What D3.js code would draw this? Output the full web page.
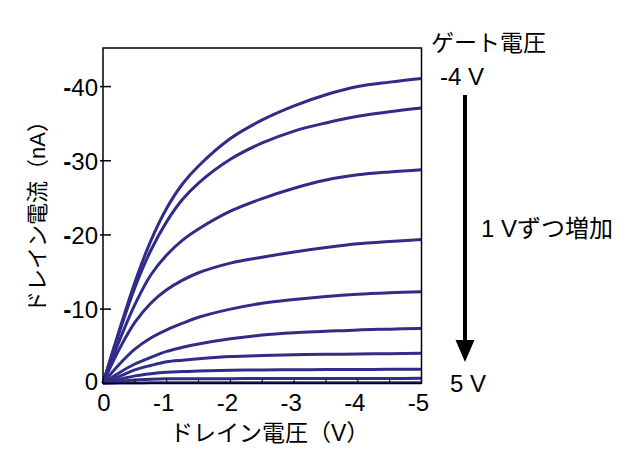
<!DOCTYPE html>
<html>
<head>
<meta charset="utf-8">
<script src="https://cdn.jsdelivr.net/npm/d3@7"></script>
<style>
  html, body { margin: 0; padding: 0; background: #fff; }
  svg text { font-family: "Liberation Sans", Arial, "Noto Sans CJK JP", sans-serif; fill: #000; }
</style>
</head>
<body>
<svg id="chart" width="643" height="464"></svg>
<script>
// Drain voltage samples (V)
const drainVoltage = [0, -0.25, -0.5, -0.75, -1, -1.25, -1.5, -2, -2.5, -3, -3.5, -4, -4.5, -5];
// Gate voltages, from -4 V to 5 V in 1 V steps
const gateVoltages = [-4, -3, -2, -1, 0, 1, 2, 3, 4, 5];
// Drain current (nA) for each gate voltage
const curveGm4 = [0, -7.0, -13.6, -19.2, -23.6, -26.9, -29.3, -33.0, -35.5, -37.4, -38.9, -40.0, -40.6, -41.1];
const curveGm3 = [0, -6.7, -12.9, -17.9, -21.8, -24.8, -27.0, -30.2, -32.4, -34.0, -35.1, -36.0, -36.6, -37.1];
const curveGm2 = [0, -5.6, -10.6, -14.6, -17.3, -19.3, -20.8, -23.2, -24.9, -26.3, -27.4, -28.1, -28.5, -28.8];
const curveGm1 = [0, -4.5, -8.2, -10.8, -12.6, -13.9, -14.9, -16.2, -17.0, -17.7, -18.3, -18.8, -19.1, -19.4];
const curveG0  = [0, -2.5, -4.6, -6.1, -7.2, -8.1, -8.9, -10.0, -10.8, -11.3, -11.7, -12.0, -12.2, -12.35];
const curveG1  = [0, -1.4, -2.6, -3.5, -4.3, -4.85, -5.3, -6.0, -6.5, -6.8, -7.0, -7.2, -7.3, -7.4];
const curveG2  = [0, -0.9, -1.8, -2.4, -2.9, -3.12, -3.3, -3.6, -3.75, -3.85, -3.9, -3.95, -4.0, -4.05];
const curveG3  = [0, -0.5, -1.0, -1.3, -1.5, -1.58, -1.65, -1.75, -1.8, -1.83, -1.85, -1.87, -1.88, -1.9];
const curveG4  = [0, -0.25, -0.45, -0.55, -0.6, -0.61, -0.62, -0.63, -0.64, -0.65, -0.65, -0.66, -0.66, -0.67];
const curveG5  = [0, -0.03, -0.05, -0.06, -0.07, -0.07, -0.07, -0.07, -0.08, -0.08, -0.08, -0.08, -0.08, -0.08];
const currents = [curveGm4, curveGm3, curveGm2, curveGm1, curveG0, curveG1, curveG2, curveG3, curveG4, curveG5];

const xTicks = [0, -1, -2, -3, -4, -5];
const xMinorTicks = [-0.5, -1, -1.5, -2, -2.5, -3, -3.5, -4, -4.5];
const yTicks = [-10, -20, -30, -40];
const yTickLabels = ["10", "20", "30", "40"];

const xLabel = "ドレイン電圧（V）";
const yLabel = "ドレイン電流（nA）";
const legendTitle = "ゲート電圧";
const legendTop = "-4 V";
const legendBottom = "5 V";
const legendStep = "1 Vずつ増加";

const svg = d3.select("#chart");
const mLeft = 103, mRight = 421.5, mTop = 48, mBottom = 383.3;
const x = d3.scaleLinear().domain([0, -5]).range([mLeft, mRight]);
const y = d3.scaleLinear().domain([0, -45.2]).range([mBottom, mTop]);
const lineColor = "#302c87";

// curves
const line = d3.line()
  .x(d => x(d[0]))
  .y(d => y(d[1]))
  .curve(d3.curveCatmullRom.alpha(0.5));

svg.append("g").selectAll("path")
  .data(currents)
  .join("path")
  .attr("d", c => line(drainVoltage.map((v, i) => [v, c[i]])))
  .attr("fill", "none")
  .attr("stroke", lineColor)
  .attr("stroke-width", 3)
  .attr("stroke-linejoin", "round");

// frame
svg.append("rect")
  .attr("x", mLeft).attr("y", mTop)
  .attr("width", mRight - mLeft).attr("height", mBottom - mTop)
  .attr("fill", "none").attr("stroke", "#000").attr("stroke-width", 1.5);

// x axis minor ticks (inward)
svg.append("g").selectAll("line")
  .data(xMinorTicks)
  .join("line")
  .attr("x1", d => x(d)).attr("x2", d => x(d))
  .attr("y1", mBottom).attr("y2", mBottom - 4)
  .attr("stroke", "#000").attr("stroke-width", 1);

// x axis labels
svg.append("g").selectAll("text")
  .data(xTicks)
  .join("text")
  .attr("x", d => x(d) - (d === 0 ? -1 : 3))
  .attr("y", 411)
  .attr("text-anchor", "middle")
  .attr("font-size", 24)
  .text(d => d === 0 ? "0" : String(d));

// y axis ticks
svg.append("g").selectAll("line")
  .data(yTicks)
  .join("line")
  .attr("x1", mLeft - 3).attr("x2", mLeft + 8)
  .attr("y1", d => y(d)).attr("y2", d => y(d))
  .attr("stroke", "#000").attr("stroke-width", 1.5);

const yl = svg.append("g").selectAll("text")
  .data(yTicks)
  .join("text")
  .attr("x", 98)
  .attr("y", d => y(d) + 9)
  .attr("text-anchor", "end")
  .attr("font-size", 24);
yl.append("tspan").attr("font-weight", "bold").text("-");
yl.append("tspan").text((d, i) => yTickLabels[i]);

svg.append("text")
  .attr("x", 98).attr("y", 390)
  .attr("text-anchor", "end")
  .attr("font-size", 24)
  .text("0");

// axis titles
svg.append("text")
  .attr("x", 170).attr("y", 441)
  .attr("font-size", 23)
  .text(xLabel);

svg.append("text")
  .attr("transform", "translate(45,313) rotate(-90)")
  .attr("font-size", 22)
  .text(yLabel);

// legend annotation
svg.append("text").attr("x", 431).attr("y", 51).attr("font-size", 23).text(legendTitle);
svg.append("text").attr("x", 440).attr("y", 85).attr("font-size", 24).text(legendTop);
svg.append("text").attr("x", 450).attr("y", 392).attr("font-size", 24).text(legendBottom);
svg.append("text").attr("x", 481).attr("y", 237).attr("font-size", 24).text(legendStep);

svg.append("line")
  .attr("x1", 465).attr("x2", 465)
  .attr("y1", 95).attr("y2", 342)
  .attr("stroke", "#000").attr("stroke-width", 4);
svg.append("path")
  .attr("d", d3.line()([[455.5, 340], [474.5, 340], [465, 362]]) + "Z")
  .attr("fill", "#000");
</script>
</body>
</html>
